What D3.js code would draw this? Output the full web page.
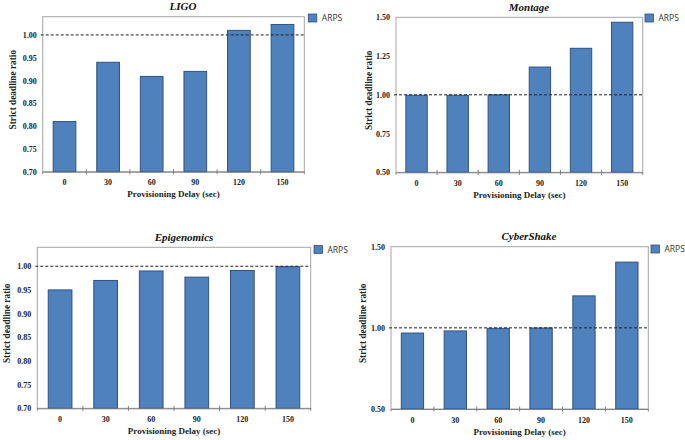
<!DOCTYPE html>
<html><head><meta charset="utf-8">
<script src="https://cdn.jsdelivr.net/npm/d3@7"></script>
<style>
body{margin:0;background:#fff;}
svg{display:block;}
</style>
</head><body>
<svg id="chart" width="685" height="440"></svg>
<script>
// ---- data ----
const categories = ["0", "30", "60", "90", "120", "150"];
const ligoValues = [0.81, 0.94, 0.909, 0.92, 1.01, 1.023];
const montageValues = [0.997, 0.997, 1.0, 1.179, 1.30, 1.468];
const epigenomicsValues = [0.95, 0.97, 0.99, 0.977, 0.991, 0.999];
const cybershakeValues = [0.968, 0.981, 0.997, 0.999, 1.197, 1.405];
const ticksFine = [0.70, 0.75, 0.80, 0.85, 0.90, 0.95, 1.00];
const ticksMontage = [0.50, 0.75, 1.00, 1.25, 1.50];
const ticksCyber = [0.50, 1.00, 1.50];
const seriesName = "ARPS";
const xTitle = "Provisioning Delay (sec)";
const yTitle = "Strict deadline ratio";
const referenceLine = 1.0;

const panels = [
  {title:"LIGO", values:ligoValues, ticks:ticksFine, domain:[0.70,1.04],
   box:{l:42.7,t:16.7,r:304.3,b:171.7}, leg:{x:308.3,y:14}, titleY:10, titleX:183, ytX:15.5},
  {title:"Montage", values:montageValues, ticks:ticksMontage, domain:[0.5,1.5],
   box:{l:396,t:17.3,r:642.7,b:172.3}, leg:{x:645,y:14}, titleY:10.5, titleX:529, ytX:372},
  {title:"Epigenomics", values:epigenomicsValues, ticks:ticksFine, domain:[0.70,1.04],
   box:{l:37.3,t:247.3,r:310.7,b:408.3}, leg:{x:314,y:245.5}, titleY:240.5, titleX:184, ytX:10},
  {title:"CyberShake", values:cybershakeValues, ticks:ticksCyber, domain:[0.5,1.5],
   box:{l:391,t:246.7,r:648.3,b:409}, leg:{x:651,y:245}, titleY:240, titleX:529, ytX:365.5}
];

const svg = d3.select("#chart");
const serif = "'Liberation Serif','Times New Roman',serif";

panels.forEach(p => {
  const g = svg.append("g");
  const B = p.box;
  const x = d3.scaleBand().domain(categories).range([B.l, B.r]).paddingInner(0.48).paddingOuter(0.24);
  const y = d3.scaleLinear().domain(p.domain).range([B.b, B.t]);

  // plot border
  g.append("rect").attr("x",B.l).attr("y",B.t).attr("width",B.r-B.l).attr("height",B.b-B.t)
    .attr("fill","none").attr("stroke","#a6a6a6").attr("stroke-width",1);

  // bars
  g.selectAll("rect.bar").data(p.values).join("rect").attr("class","bar")
    .attr("x",(d,i)=>x(categories[i]))
    .attr("width",x.bandwidth())
    .attr("y",d=>y(d))
    .attr("height",d=>y(p.domain[0])-y(d))
    .attr("fill","#4f81bd").attr("stroke","#2e5284").attr("stroke-width",1);

  // reference dashed line
  g.append("line").attr("x1",B.l-2).attr("x2",B.r).attr("y1",y(referenceLine)).attr("y2",y(referenceLine))
    .attr("stroke","#222").attr("stroke-width",1).attr("stroke-dasharray","3,2");

  // y axis labels
  const ya = d3.axisLeft(y).tickValues(p.ticks).tickSize(0).tickPadding(6).tickFormat(d3.format(".2f"));
  const yg = g.append("g").attr("transform",`translate(${B.l},0)`).call(ya);
  yg.select(".domain").remove();
  yg.selectAll("text").attr("font-family",serif).attr("font-weight","bold").attr("font-size",8).attr("fill","#222");

  // x axis
  const xa = d3.axisBottom(x).tickSize(0).tickPadding(8);
  const xg = g.append("g").attr("transform",`translate(0,${B.b})`).call(xa);
  xg.select(".domain").attr("stroke","#808080");
  xg.selectAll("text").attr("font-family",serif).attr("font-weight","bold").attr("font-size",8).attr("fill","#222");
  // category boundary ticks
  categories.slice(0, categories.length-1).forEach((c,i)=>{
    const bx = B.l + (i+1)*(B.r-B.l)/categories.length;
    g.append("line").attr("x1",bx).attr("x2",bx).attr("y1",B.b-2.5).attr("y2",B.b+2.5).attr("stroke","#808080");
  });
  g.append("line").attr("x1",B.l).attr("x2",B.l).attr("y1",B.b).attr("y2",B.b+2.5).attr("stroke","#808080");
  g.append("line").attr("x1",B.r).attr("x2",B.r).attr("y1",B.b).attr("y2",B.b+2.5).attr("stroke","#808080");

  // x title
  g.append("text").attr("x",(B.l+B.r)/2).attr("y",B.b+25.5).attr("text-anchor","middle")
    .attr("font-family",serif).attr("font-weight","bold").attr("font-size",9).attr("fill","#222").text(xTitle);
  // y title
  g.append("text").attr("transform",`translate(${p.ytX},${(B.t+B.b)/2-4.5}) rotate(-90)`)
    .attr("text-anchor","middle")
    .attr("font-family",serif).attr("font-weight","bold").attr("font-size",9.3).attr("fill","#222").text(yTitle);
  // title
  g.append("text").attr("x",p.titleX).attr("y",p.titleY).attr("text-anchor","middle")
    .attr("font-family",serif).attr("font-weight","bold").attr("font-style","italic").attr("font-size",11)
    .attr("fill","#111").text(p.title);

  // legend
  g.append("rect").attr("x",p.leg.x).attr("y",p.leg.y).attr("width",8.5).attr("height",8)
    .attr("fill","#4f81bd").attr("stroke","#2e5284").attr("stroke-width",0.8);
  g.append("text").attr("x",p.leg.x+13.5).attr("y",p.leg.y+7).attr("font-family","'Open Sans','Liberation Sans',sans-serif")
    .attr("font-size",8.5).attr("fill","#333").text(seriesName);
});
</script>
</body></html>
